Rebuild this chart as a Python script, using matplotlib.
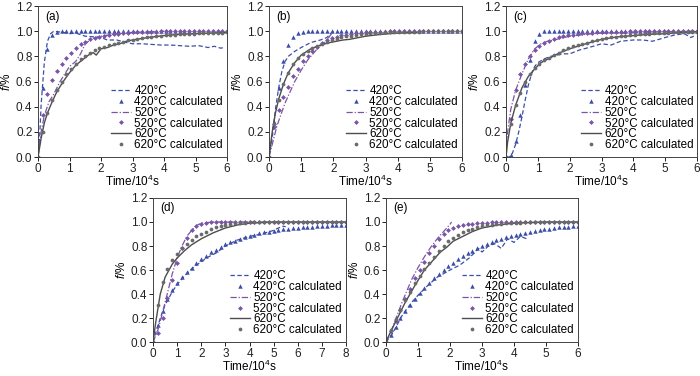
import numpy as np
import matplotlib
matplotlib.use("Agg")
import matplotlib.pyplot as plt

plt.rcParams['font.family'] = ['Liberation Sans', 'DejaVu Sans']
plt.rcParams['mathtext.fontset'] = 'custom'
plt.rcParams['mathtext.rm'] = 'Liberation Sans'
plt.rcParams['mathtext.it'] = 'Liberation Sans:italic'

# time grids for the calculated curves (10^4 s)
T6 = np.linspace(0, 6, 41)
T8 = np.linspace(0, 8, 41)

# ---------------- (a) ----------------
a420_t = [0, 0.05, 0.1, 0.2, 0.3, 0.4, 0.5, 0.8, 1.0, 1.2, 1.5, 1.8, 2.0, 2.2, 2.5, 2.8, 3.0, 3.3,
          3.6, 3.9, 4.2, 4.5, 4.8, 5.1, 5.4, 5.6, 5.8, 5.9]
a420_f = [0, 0.15, 0.42, 0.75, 0.92, 0.98, 1.0, 0.99, 0.98, 0.985, 0.96, 0.955, 0.95, 0.93, 0.93, 0.91,
          0.9, 0.9, 0.895, 0.89, 0.89, 0.885, 0.88, 0.885, 0.87, 0.88, 0.865, 0.87]
a420_c = [0, 0.55, 0.86, 0.97, 0.995] + [1.0] * 36
a520_t = [0, 0.1, 0.2, 0.35, 0.5, 0.7, 0.9, 1.0, 1.2, 1.35, 1.5, 1.7, 2.0, 2.5, 3.0, 3.5, 4.0]
a520_f = [0, 0.2, 0.33, 0.44, 0.5, 0.6, 0.68, 0.72, 0.76, 0.82, 0.9, 0.94, 0.96, 0.98, 0.99, 0.995, 1.0]
a520_c = [0, 0.33, 0.5, 0.61, 0.68, 0.74, 0.79, 0.83, 0.87, 0.895, 0.915, 0.935, 0.945, 0.957, 0.965,
          0.972, 0.977, 0.981, 0.985, 0.988, 0.99, 0.992, 0.994, 0.995, 0.996, 0.997, 0.998] + [1.0] * 14
a620_t = [0, 0.1, 0.2, 0.3, 0.45, 0.6, 0.8, 1.0, 1.2, 1.4, 1.6, 1.75, 1.85, 2.0, 2.2, 2.4, 2.6, 2.8,
          3.0, 3.5, 4.0, 4.5, 5.0, 5.5, 6.0]
a620_f = [0, 0.15, 0.27, 0.35, 0.44, 0.52, 0.6, 0.67, 0.73, 0.77, 0.81, 0.83, 0.81, 0.86, 0.87, 0.89,
          0.9, 0.92, 0.93, 0.95, 0.965, 0.975, 0.98, 0.985, 0.99]
a620_c = [0, 0.2, 0.35, 0.45, 0.53, 0.6, 0.66, 0.7, 0.74, 0.775, 0.8, 0.83, 0.85, 0.865, 0.878, 0.89,
          0.9, 0.91, 0.918, 0.926, 0.933, 0.94, 0.945, 0.95, 0.955, 0.96, 0.964, 0.967, 0.97, 0.973,
          0.975, 0.977, 0.979, 0.981, 0.983, 0.984, 0.986, 0.987, 0.988, 0.989, 0.99]

# ---------------- (b) ----------------
b420_t = [0, 0.1, 0.2, 0.3, 0.4, 0.5, 0.6, 0.8, 1.0, 1.3, 1.6, 1.8, 1.95, 2.0]
b420_f = [0, 0.15, 0.38, 0.55, 0.68, 0.76, 0.8, 0.84, 0.87, 0.91, 0.93, 0.95, 0.99, 1.0]
b420_c = [0, 0.28, 0.55, 0.76, 0.89, 0.955, 0.985, 0.995, 1.0] + [1.0] * 32
b520_t = [0, 0.1, 0.25, 0.5, 0.8, 1.0, 1.2, 1.5, 1.8, 2.0]
b520_f = [0, 0.1, 0.25, 0.43, 0.6, 0.69, 0.77, 0.86, 0.93, 1.0]
b520_c = [0, 0.24, 0.37, 0.48, 0.56, 0.64, 0.7, 0.76, 0.8, 0.84, 0.875, 0.905, 0.93, 0.945, 0.957,
          0.966, 0.973, 0.979, 0.984, 0.988, 0.991, 0.993, 0.995, 0.996, 0.997, 0.998, 0.999] + [1.0] * 14
b620_t = [0, 0.1, 0.2, 0.3, 0.45, 0.6, 0.8, 1.0, 1.3, 1.6, 1.9, 2.1, 2.3, 2.5, 2.7, 3.0, 3.5, 4.0, 4.6]
b620_f = [0, 0.2, 0.35, 0.46, 0.58, 0.67, 0.75, 0.81, 0.86, 0.89, 0.91, 0.92, 0.93, 0.935, 0.945,
          0.96, 0.975, 0.985, 0.99]
b620_c = [0, 0.26, 0.45, 0.58, 0.67, 0.74, 0.785, 0.82, 0.845, 0.865, 0.885, 0.9, 0.915, 0.928, 0.94,
          0.95, 0.958, 0.965, 0.971, 0.976, 0.98, 0.983, 0.986, 0.988, 0.99, 0.992, 0.993, 0.994, 0.995,
          0.996, 0.997, 0.997, 0.998, 0.998, 0.999, 0.999, 0.999, 1.0, 1.0, 1.0, 1.0]

# ---------------- (c) ----------------
c420_t = [0, 0.1, 0.2, 0.3, 0.4, 0.5, 0.6, 0.7, 0.8, 0.9, 1.0, 1.2, 1.4, 1.6, 1.8, 2.0, 2.3, 2.6, 3.0,
          3.3, 3.6, 4.0, 4.3, 4.6, 5.0, 5.3, 5.6, 5.8, 5.9]
c420_f = [0, 0, 0.03, 0.1, 0.2, 0.32, 0.45, 0.57, 0.66, 0.72, 0.75, 0.78, 0.8, 0.81, 0.82, 0.82, 0.85,
          0.87, 0.9, 0.89, 0.92, 0.93, 0.93, 0.92, 0.95, 0.97, 0.98, 0.95, 0.96]
c420_c = [0, 0.02, 0.13, 0.33, 0.57, 0.77, 0.92, 0.98, 0.998] + [1.0] * 32
c520_t = [0, 0.05, 0.15, 0.3, 0.5, 0.7, 0.9, 1.1, 1.3, 1.5, 2.0, 2.5, 3.0, 4.0, 5.0, 6.0]
c520_f = [0, 0.2, 0.38, 0.53, 0.66, 0.78, 0.86, 0.9, 0.92, 0.93, 0.96, 0.975, 0.985, 0.99, 0.995, 1.0]
c520_c = [0, 0.3, 0.53, 0.66, 0.74, 0.8, 0.85, 0.885, 0.91, 0.925, 0.94, 0.95, 0.96, 0.967, 0.973,
          0.978, 0.982, 0.985, 0.988, 0.99, 0.992, 0.993, 0.994, 0.995, 0.996, 0.997, 0.998, 0.998,
          0.999, 0.999] + [1.0] * 11
c620_t = [0, 0.05, 0.15, 0.3, 0.5, 0.7, 0.9, 1.1, 1.4, 1.7, 2.0, 2.5, 3.0, 3.5, 4.0, 4.5, 5.0, 5.5, 6.0]
c620_f = [0, 0.12, 0.27, 0.41, 0.55, 0.64, 0.7, 0.75, 0.79, 0.83, 0.86, 0.9, 0.935, 0.955, 0.965,
          0.975, 0.98, 0.99, 0.995]
c620_c = [0, 0.26, 0.41, 0.51, 0.6, 0.66, 0.71, 0.74, 0.77, 0.79, 0.81, 0.83, 0.85, 0.865, 0.88, 0.89,
          0.9, 0.91, 0.92, 0.93, 0.937, 0.944, 0.95, 0.955, 0.96, 0.965, 0.969, 0.972, 0.975, 0.978,
          0.98, 0.982, 0.984, 0.986, 0.988, 0.99, 0.991, 0.992, 0.993, 0.994, 0.995]

# ---------------- (d) ----------------
d420_t = [0, 0.1, 0.3, 0.5, 0.8, 1.0, 1.3, 1.6, 2.0, 2.3, 2.6, 2.8, 3.0, 3.5, 4.0, 4.5, 5.0, 5.2, 5.4, 5.5]
d420_f = [0, 0.07, 0.2, 0.31, 0.42, 0.48, 0.55, 0.61, 0.67, 0.71, 0.74, 0.77, 0.8, 0.85, 0.88, 0.9,
          0.93, 0.95, 0.965, 0.96]
d420_c = [0, 0.14, 0.26, 0.36, 0.43, 0.49, 0.54, 0.58, 0.62, 0.66, 0.69, 0.72, 0.75, 0.77, 0.795,
          0.815, 0.83, 0.845, 0.86, 0.875, 0.885, 0.895, 0.905, 0.913, 0.92, 0.927, 0.933, 0.939,
          0.944, 0.948, 0.952, 0.956, 0.959, 0.962, 0.965, 0.967, 0.969, 0.971, 0.973, 0.975, 0.976]
d520_t = [0, 0.2, 0.4, 0.6, 0.8, 1.0, 1.2, 1.4, 1.6, 1.8, 2.0, 2.5, 3.0, 4.0, 5.0]
d520_f = [0, 0.1, 0.25, 0.41, 0.57, 0.7, 0.8, 0.88, 0.93, 0.97, 0.99, 1.0, 1.0, 1.0, 1.0]
d520_c = [0, 0.08, 0.2, 0.37, 0.52, 0.66, 0.78, 0.87, 0.93, 0.965, 0.985, 0.994, 0.998, 1.0] + [1.0] * 27
d620_t = [0, 0.1, 0.3, 0.5, 0.8, 1.0, 1.3, 1.6, 2.0, 2.5, 3.0, 3.5, 4.0, 5.0, 6.0, 7.0, 8.0]
d620_f = [0, 0.15, 0.4, 0.54, 0.65, 0.7, 0.76, 0.81, 0.86, 0.91, 0.95, 0.975, 0.99, 1.0, 1.0, 1.0, 1.0]
d620_c = [0, 0.31, 0.5, 0.61, 0.68, 0.73, 0.78, 0.82, 0.85, 0.88, 0.9, 0.92, 0.94, 0.955, 0.967,
          0.976, 0.983, 0.988, 0.992, 0.995, 0.997, 0.998, 0.999] + [1.0] * 18

# ---------------- (e) ----------------
e420_t = [0, 0.2, 0.5, 0.8, 1.0, 1.3, 1.6, 2.0, 2.3, 2.6, 2.9, 3.0, 3.2, 3.4, 3.6, 3.8, 4.0, 4.2, 4.4]
e420_f = [0, 0.07, 0.22, 0.33, 0.39, 0.47, 0.54, 0.6, 0.64, 0.7, 0.78, 0.75, 0.8, 0.82, 0.78, 0.86,
          0.83, 0.88, 0.86]
e420_c = [0, 0.06, 0.13, 0.2, 0.26, 0.31, 0.36, 0.41, 0.45, 0.49, 0.53, 0.57, 0.6, 0.63, 0.66, 0.69,
          0.715, 0.74, 0.76, 0.78, 0.8, 0.815, 0.835, 0.85, 0.862, 0.873, 0.884, 0.894, 0.903, 0.911,
          0.919, 0.926, 0.932, 0.938, 0.944, 0.949, 0.954, 0.958, 0.962, 0.966, 0.97]
e520_t = [0, 0.2, 0.5, 0.8, 1.0, 1.2, 1.4, 1.6, 1.8, 2.0, 2.05]
e520_f = [0, 0.12, 0.33, 0.52, 0.62, 0.71, 0.79, 0.86, 0.92, 0.98, 1.0]
e520_c = [0, 0.09, 0.18, 0.27, 0.36, 0.44, 0.53, 0.6, 0.67, 0.74, 0.8, 0.86, 0.9, 0.93, 0.95, 0.965,
          0.975, 0.982, 0.987, 0.99, 0.993, 0.995, 0.996, 0.997, 0.998, 0.999] + [1.0] * 15
e620_t = [0, 0.1, 0.3, 0.6, 0.9, 1.2, 1.5, 1.7, 1.9, 2.1, 2.4, 2.7, 3.0, 3.5, 4.0, 5.0, 6.0]
e620_f = [0, 0.06, 0.17, 0.33, 0.47, 0.6, 0.69, 0.75, 0.79, 0.84, 0.88, 0.92, 0.95, 0.975, 0.99, 1.0, 1.0]
e620_c = [0, 0.1, 0.19, 0.27, 0.35, 0.42, 0.49, 0.55, 0.61, 0.66, 0.71, 0.76, 0.8, 0.84, 0.87, 0.895,
          0.915, 0.93, 0.945, 0.955, 0.965, 0.972, 0.978, 0.983, 0.987, 0.99, 0.992, 0.994, 0.995,
          0.996, 0.997, 0.998, 0.998, 0.999, 0.999, 1.0, 1.0, 1.0, 1.0, 1.0, 1.0]

panels = [
    ('(a)', [0.0543, 0.5824, 0.270, 0.4016], T6, 6,
     (a420_t, a420_f, a420_c), (a520_t, a520_f, a520_c), (a620_t, a620_f, a620_c)),
    ('(b)', [0.3843, 0.5824, 0.2757, 0.4016], T6, 6,
     (b420_t, b420_f, b420_c), (b520_t, b520_f, b520_c), (b620_t, b620_f, b620_c)),
    ('(c)', [0.7229, 0.5824, 0.2729, 0.4016], T6, 6,
     (c420_t, c420_f, c420_c), (c520_t, c520_f, c520_c), (c620_t, c620_f, c620_c)),
    ('(d)', [0.2186, 0.0900, 0.2757, 0.3836], T8, 8,
     (d420_t, d420_f, d420_c), (d520_t, d520_f, d520_c), (d620_t, d620_f, d620_c)),
    ('(e)', [0.5514, 0.0900, 0.2743, 0.3836], T6, 6,
     (e420_t, e420_f, e420_c), (e520_t, e520_f, e520_c), (e620_t, e620_f, e620_c)),
]

blue = '#3b4ea8'
purple = '#7a55a6'
gray = '#4d4d4d'
gray_m = '#6a6a6a'

fig = plt.figure(figsize=(7.0, 3.76), dpi=100)

for tag, pos, T, xmax, s420, s520, s620 in panels:
    ax = fig.add_axes(pos)
    ax.plot(s420[0], s420[1], ls=(0, (3.5, 2)), color=blue, lw=0.9, label='420°C')
    ax.plot(T, s420[2], ls='none', marker='^', ms=3.2, color=blue, mew=0, label='420°C calculated')
    ax.plot(s520[0], s520[1], ls=(0, (5, 1.5, 1, 1.5)), color=purple, lw=0.9, label='520°C')
    ax.plot(T, s520[2], ls='none', marker='D', ms=2.5, color=purple, mew=0, label='520°C calculated')
    ax.plot(s620[0], s620[1], ls='-', color=gray, lw=1.0, label='620°C')
    ax.plot(T, s620[2], ls='none', marker='o', ms=2.7, color=gray_m, mew=0, label='620°C calculated')

    ax.set_xlim(0, xmax)
    ax.set_ylim(0, 1.2)
    ax.set_xticks(range(0, xmax + 1))
    ax.set_yticks(np.arange(0, 1.21, 0.2))
    ax.yaxis.set_major_formatter(matplotlib.ticker.FormatStrFormatter('%.1f'))
    ax.tick_params(direction='out', length=3, width=0.7, labelsize=8.5, pad=1, colors='#222222')
    for sp in ax.spines.values():
        sp.set_linewidth(0.7)
        sp.set_color('#444444')
    ax.set_xlabel(r'Time/10$^4$s', fontsize=8.5, labelpad=-0.5)
    ax.set_ylabel(r'$\mathit{f}$/%', fontsize=8.5, labelpad=2)
    ax.text(0.04, 0.97, tag, transform=ax.transAxes, ha='left', va='top', fontsize=8.5)
    ax.legend(loc='lower right', bbox_to_anchor=(1.01, 0.0), frameon=False, fontsize=8.4,
              numpoints=1, handlelength=1.7, handletextpad=0.3, labelspacing=-0.1,
              borderaxespad=0.3, borderpad=0.2)

fig.savefig('out.png', dpi=100)
